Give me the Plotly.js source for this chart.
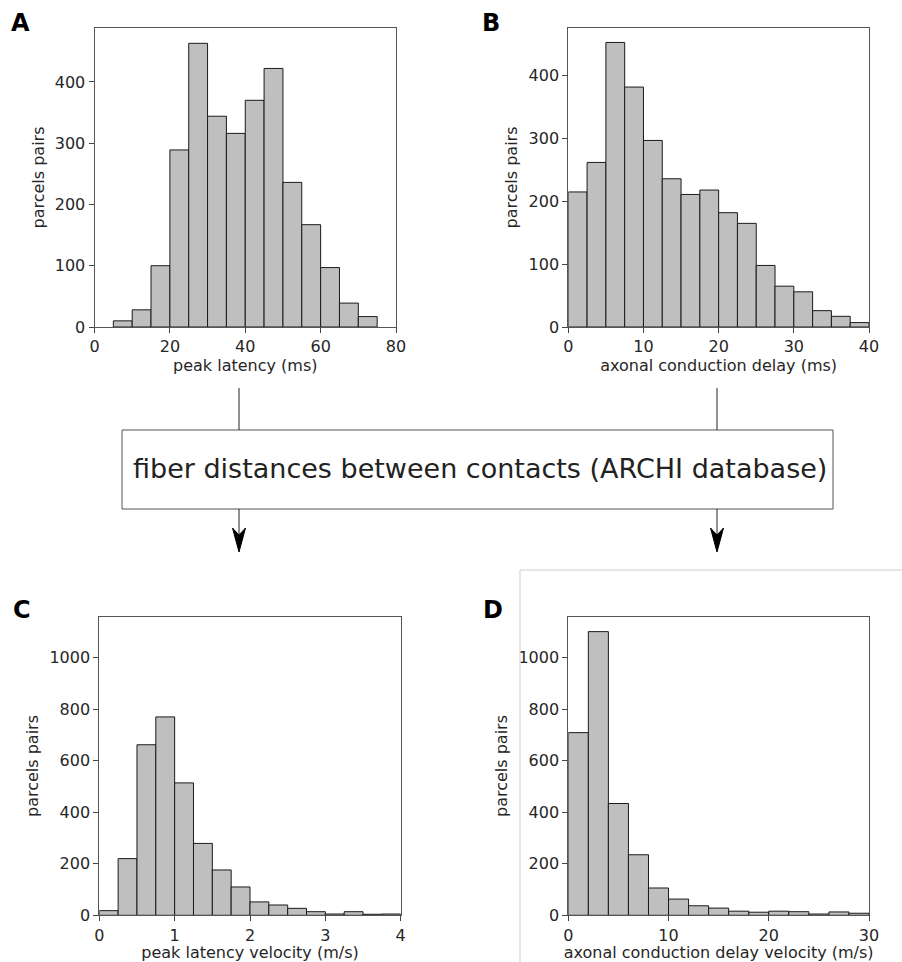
<!DOCTYPE html>
<html>
<head>
<meta charset="utf-8">
<script src="https://cdn.plot.ly/plotly-3.0.1.min.js"></script>
<style>html,body{margin:0;padding:0;background:#fff}#chart{width:902px;height:962px}</style>
</head>
<body>
<div id="chart"></div>
<script>
// Panel A: peak latency (ms), bins of 5 ms starting at 5
const binStartA = [5,10,15,20,25,30,35,40,45,50,55,60,65,70];
const countsA   = [10,28,100,289,463,344,316,370,422,236,167,97,39,17];
const binWidthA = 5;

// Panel B: axonal conduction delay (ms), bins of 2.5 ms starting at 0
const binStartB = [0,2.5,5,7.5,10,12.5,15,17.5,20,22.5,25,27.5,30,32.5,35,37.5];
const countsB   = [215,262,453,382,297,236,211,218,182,165,98,65,56,26,17,7];
const binWidthB = 2.5;

// Panel C: peak latency velocity (m/s), bins of 0.25 starting at 0
const binStartC = [0,0.25,0.5,0.75,1,1.25,1.5,1.75,2,2.25,2.5,2.75,3,3.25,3.5,3.75];
const countsC   = [18,220,662,770,514,279,176,110,52,40,27,14,5,14,4,5];
const binWidthC = 0.25;

// Panel D: axonal conduction delay velocity (m/s), bins of 2 starting at 0
const binStartD = [0,2,4,6,8,10,12,14,16,18,20,22,24,26,28];
const countsD   = [709,1101,434,235,106,63,37,28,16,12,16,14,5,13,8];
const binWidthD = 2;

const xTitles = ["peak latency (ms)", "axonal conduction delay (ms)", "peak latency velocity (m/s)", "axonal conduction delay velocity (m/s)"];
const yTitle = "parcels pairs";
const panelLetters = ["A","B","C","D"];
const boxText = "fiber distances between contacts (ARCHI database)";

const W = 902, H = 962;
const px = v => v / W;
const py = v => 1 - v / H;

function barTrace(starts, counts, width, xa, ya) {
  return {
    type: 'bar', x: starts, y: counts, width: width, offset: 0,
    xaxis: xa, yaxis: ya,
    marker: {color: '#bfbfbf', line: {color: '#1a1a1a', width: 1}},
    hoverinfo: 'x+y', showlegend: false
  };
}

const data = [
  barTrace(binStartA, countsA, binWidthA, 'x', 'y'),
  barTrace(binStartB, countsB, binWidthB, 'x2', 'y2'),
  barTrace(binStartC, countsC, binWidthC, 'x3', 'y3'),
  barTrace(binStartD, countsD, binWidthD, 'x4', 'y4')
];

const tickFont = {family: 'DejaVu Sans', size: 16, color: '#262626'};
const titleFont = {family: 'DejaVu Sans', size: 16, color: '#262626'};

function xax(domain, range, dtick, title, anchor) {
  return {
    domain: domain, range: range, dtick: dtick, tick0: 0, anchor: anchor,
    showline: true, mirror: true, linecolor: '#555', linewidth: 1,
    ticks: 'outside', ticklen: 5, tickcolor: '#444', showgrid: false, zeroline: false,
    tickfont: tickFont, title: {text: title, font: titleFont, standoff: 2}
  };
}
function yax(domain, range, dtick, anchor) {
  return {
    domain: domain, range: range, dtick: dtick, tick0: 0, anchor: anchor,
    showline: true, mirror: true, linecolor: '#555', linewidth: 1,
    ticks: 'outside', ticklen: 5, tickcolor: '#444', showgrid: false, zeroline: false,
    tickfont: tickFont, title: {text: yTitle, font: titleFont, standoff: 6}
  };
}

const topY = [py(327), py(28)];
const botY = [py(915.3), py(616.7)];

function arrowHead(xc, yTip) {
  // notched arrowhead pointing down, in paper coordinates
  const x0 = px(xc - 6.5), x1 = px(xc + 6.5), xm = px(xc);
  const yb = py(yTip - 24), yn = py(yTip - 17), yt = py(yTip);
  return {type: 'path', xref: 'paper', yref: 'paper',
    path: `M ${xm} ${yt} L ${x0} ${yb} L ${xm} ${yn} L ${x1} ${yb} Z`,
    fillcolor: '#000', line: {color: '#000', width: 1}};
}

const layout = {
  width: W, height: H,
  margin: {l: 0, r: 0, t: 0, b: 0},
  paper_bgcolor: '#fff', plot_bgcolor: '#fff',
  bargap: 0,
  xaxis:  xax([px(94.5), px(396)], [0, 80], 20, xTitles[0], 'y'),
  yaxis:  yax(topY, [0, 488], 100, 'x'),
  xaxis2: xax([px(568.3), px(869)], [0, 40], 10, xTitles[1], 'y2'),
  yaxis2: yax(topY, [0, 476], 100, 'x2'),
  xaxis3: xax([px(99.3), px(400.7)], [0, 4], 1, xTitles[2], 'y3'),
  yaxis3: yax(botY, [0, 1159], 200, 'x3'),
  xaxis4: xax([px(568.3), px(869)], [0, 30], 10, xTitles[3], 'y4'),
  yaxis4: yax(botY, [0, 1159], 200, 'x4'),
  shapes: [
    // light frame around panel D
    {type: 'line', xref: 'paper', yref: 'paper', x0: px(520), x1: px(902), y0: py(570), y1: py(570), line: {color: '#cfcfcf', width: 1}},
    {type: 'line', xref: 'paper', yref: 'paper', x0: px(520), x1: px(520), y0: py(570), y1: py(962), line: {color: '#cfcfcf', width: 1}},
    // central box
    {type: 'rect', xref: 'paper', yref: 'paper', x0: px(122), x1: px(833), y0: py(509), y1: py(430), line: {color: '#555', width: 1}, fillcolor: 'rgba(0,0,0,0)'},
    // lines from histograms down into the box
    {type: 'line', xref: 'paper', yref: 'paper', x0: px(239), x1: px(239), y0: py(388), y1: py(430), line: {color: '#222', width: 1}},
    {type: 'line', xref: 'paper', yref: 'paper', x0: px(717), x1: px(717), y0: py(388), y1: py(430), line: {color: '#222', width: 1}},
    // arrows out of the box
    {type: 'line', xref: 'paper', yref: 'paper', x0: px(239), x1: px(239), y0: py(509), y1: py(540), line: {color: '#222', width: 1}},
    {type: 'line', xref: 'paper', yref: 'paper', x0: px(717), x1: px(717), y0: py(509), y1: py(540), line: {color: '#222', width: 1}},
    arrowHead(239, 552),
    arrowHead(717, 552)
  ],
  annotations: [
    {xref: 'paper', yref: 'paper', x: px(479.5), y: py(468), text: boxText, showarrow: false, font: {family: 'DejaVu Sans', size: 27, color: '#222'}, xanchor: 'center', yanchor: 'middle'},
    {xref: 'paper', yref: 'paper', x: px(9), y: py(7), text: '<b>' + panelLetters[0] + '</b>', showarrow: false, xanchor: 'left', yanchor: 'top', font: {family: 'DejaVu Sans', size: 24, color: '#000'}},
    {xref: 'paper', yref: 'paper', x: px(480), y: py(7), text: '<b>' + panelLetters[1] + '</b>', showarrow: false, xanchor: 'left', yanchor: 'top', font: {family: 'DejaVu Sans', size: 24, color: '#000'}},
    {xref: 'paper', yref: 'paper', x: px(11), y: py(594), text: '<b>' + panelLetters[2] + '</b>', showarrow: false, xanchor: 'left', yanchor: 'top', font: {family: 'DejaVu Sans', size: 24, color: '#000'}},
    {xref: 'paper', yref: 'paper', x: px(481), y: py(594), text: '<b>' + panelLetters[3] + '</b>', showarrow: false, xanchor: 'left', yanchor: 'top', font: {family: 'DejaVu Sans', size: 24, color: '#000'}}
  ]
};

Plotly.newPlot('chart', data, layout, {displayModeBar: false, staticPlot: true});
</script>
</body>
</html>
